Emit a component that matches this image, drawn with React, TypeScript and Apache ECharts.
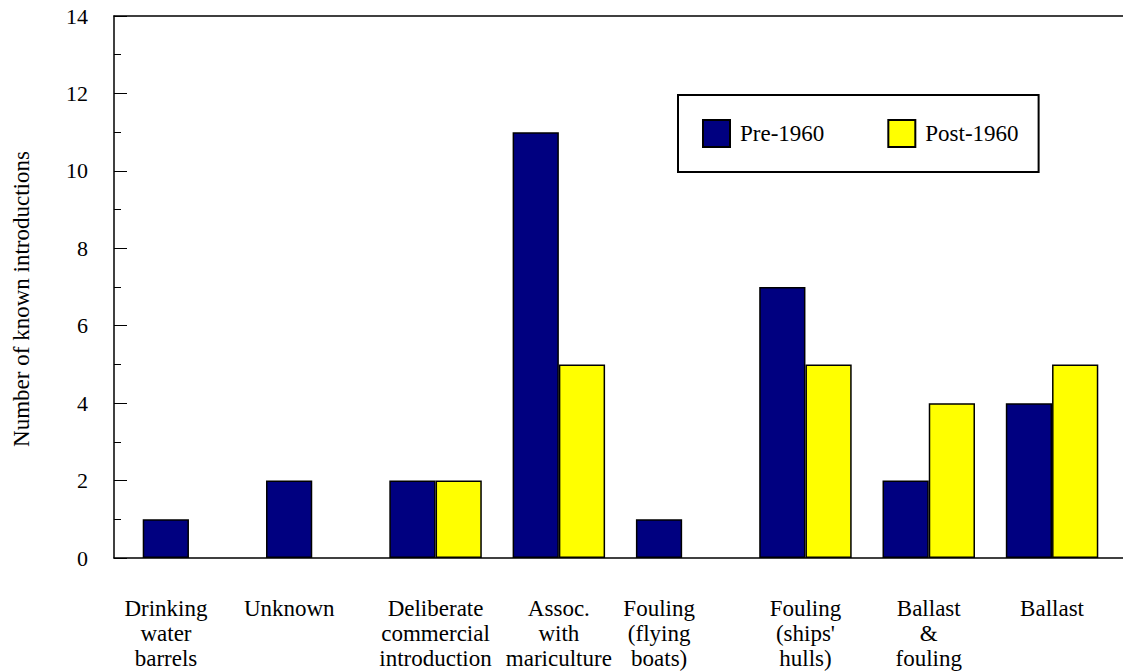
import React, { useEffect, useRef } from "react";
import * as echarts from "echarts";

const categories = [
  "Drinking\nwater\nbarrels",
  "Unknown",
  "Deliberate\ncommercial\nintroduction",
  "Assoc.\nwith\nmariculture",
  "Fouling\n(flying\nboats)",
  "Fouling\n(ships'\nhulls)",
  "Ballast\n&\nfouling",
  "Ballast",
];
const pre1960 = [1, 2, 2, 11, 1, 7, 2, 4];
const post1960 = [null, null, 2, 5, null, 5, 4, 5];
const seriesNames = ["Pre-1960", "Post-1960"];
const yTicks = { min: 0, max: 14, interval: 2 };
const yTitle = "Number of known introductions";

const FONT = "Liberation Serif, Times New Roman, serif";

const wrap = (s: string, tag: string) =>
  s
    .split("\n")
    .map((l) => `{${tag}|${l}}`)
    .join("\n");

export default function App() {
  const ref = useRef<HTMLDivElement>(null);
  useEffect(() => {
    document.body.style.margin = "0";
    const chart = echarts.init(ref.current!, null, { renderer: "svg" });
    const singleBar = categories.map((_, i) => post1960[i] == null);
    chart.setOption({
      animation: false,
      backgroundColor: "#ffffff",
      textStyle: { fontFamily: FONT, color: "#000" },
      legend: {
        data: seriesNames,
        left: 678,
        top: 95,
        orient: "horizontal",
        icon: "rect",
        itemWidth: 27,
        itemHeight: 27,
        itemGap: 63,
        padding: [24, 20, 24, 24],
        borderColor: "#000",
        borderWidth: 2,
        backgroundColor: "#fff",
        formatter: (n: string) => `{t|${n}}`,
        textStyle: {
          fontFamily: FONT,
          fontSize: 23,
          color: "#000",
          padding: [0, 0, 0, 5],
          rich: { t: { fontFamily: FONT, fontSize: 23, color: "#000" } },
        },
      },
      grid: [
        { left: 114, top: 16, width: 1009, height: 542, outerBoundsMode: "none", containLabel: false },
        { left: 127.3, top: 16, width: 986.4, height: 542, outerBoundsMode: "none", containLabel: false },
      ],
      xAxis: [
        {
          type: "value",
          gridIndex: 0,
          position: "bottom",
          min: 0,
          max: 1,
          axisLine: { show: true, lineStyle: { color: "#000", width: 1.5 } },
          axisTick: { show: false },
          axisLabel: { show: false },
          splitLine: { show: false },
        },
        {
          type: "value",
          gridIndex: 0,
          position: "top",
          min: 0,
          max: 1,
          axisLine: { show: true, lineStyle: { color: "#000", width: 1.5 } },
          axisTick: { show: false },
          axisLabel: { show: false },
          splitLine: { show: false },
        },
        {
          type: "category",
          gridIndex: 1,
          data: categories,
          axisLine: { show: false },
          axisTick: { show: false },
          axisLabel: {
            interval: 0,
            margin: 38,
            fontFamily: FONT,
            fontSize: 23,
            lineHeight: 25,
            color: "#000",
            align: "center",
            verticalAlign: "top",
            formatter: (v: string, i: number) => wrap(v, singleBar[i] ? "s" : "c"),
            rich: {
              c: { fontFamily: FONT, fontSize: 23, lineHeight: 25, color: "#000", align: "center" },
              s: {
                fontFamily: FONT,
                fontSize: 23,
                lineHeight: 25,
                color: "#000",
                align: "center",
                padding: [0, 46, 0, 0],
              },
            },
          },
        },
      ],
      yAxis: [
        {
          type: "value",
          gridIndex: 0,
          min: yTicks.min,
          max: yTicks.max,
          interval: yTicks.interval,
          name: yTitle,
          nameLocation: "middle",
          nameRotate: 90,
          nameGap: 81,
          nameTextStyle: { fontFamily: FONT, fontSize: 23, color: "#000", padding: [0, 24, 0, 0] },
          axisLine: { show: true, lineStyle: { color: "#000", width: 1.5 } },
          axisTick: { show: true, inside: true, length: 13, lineStyle: { color: "#000", width: 1 } },
          minorTick: { show: true, splitNumber: 2, length: 7, lineStyle: { color: "#000", width: 1 } },
          axisLabel: {
            margin: 26,
            fontFamily: FONT,
            fontSize: 22,
            color: "#000",
            formatter: (v: number) => `{y|${v}}`,
            rich: { y: { fontFamily: FONT, fontSize: 22, color: "#000" } },
          },
          splitLine: { show: false },
        },
        {
          type: "value",
          gridIndex: 1,
          min: yTicks.min,
          max: yTicks.max,
          show: false,
          splitLine: { show: false },
        },
      ],
      series: [
        {
          name: seriesNames[0],
          type: "bar",
          xAxisIndex: 2,
          yAxisIndex: 1,
          data: pre1960,
          barGap: "0%",
          barCategoryGap: "25%",
          itemStyle: { color: "#000080", borderColor: "#000", borderWidth: 1.5 },
        },
        {
          name: seriesNames[1],
          type: "bar",
          xAxisIndex: 2,
          yAxisIndex: 1,
          data: post1960,
          barGap: "0%",
          barCategoryGap: "25%",
          itemStyle: { color: "#FFFF00", borderColor: "#000", borderWidth: 1.5 },
        },
      ],
    });
    return () => chart.dispose();
  }, []);
  return <div ref={ref} style={{ width: 1123, height: 671 }} />;
}
